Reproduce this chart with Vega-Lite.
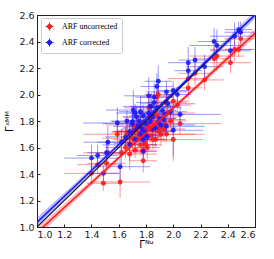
{
"$schema":"https://vega.github.io/schema/vega-lite/v6.json",
"width":218,"height":212,
"autosize":{"type":"none"},
"padding":{"left":37,"top":15,"right":19,"bottom":32},
"background":"white",
"datasets":{
"pts":[
{"s":"ARF uncorrected","x":1.40,"xe":0.20,"y":1.405,"ye":0.09},
{"s":"ARF uncorrected","x":1.445,"xe":0.15,"y":1.47,"ye":0.07},
{"s":"ARF uncorrected","x":1.487,"xe":0.12,"y":1.33,"ye":0.06},
{"s":"ARF uncorrected","x":1.52,"xe":0.18,"y":1.56,"ye":0.10},
{"s":"ARF uncorrected","x":1.61,"xe":0.22,"y":1.34,"ye":0.12},
{"s":"ARF uncorrected","x":1.51,"xe":0.14,"y":1.48,"ye":0.07},
{"s":"ARF uncorrected","x":1.78,"xe":0.10,"y":1.50,"ye":0.09},
{"s":"ARF uncorrected","x":2.00,"xe":0.22,"y":1.66,"ye":0.16},
{"s":"ARF uncorrected","x":1.59,"xe":0.25,"y":1.70,"ye":0.11},
{"s":"ARF uncorrected","x":1.707,"xe":0.20,"y":1.77,"ye":0.14},
{"s":"ARF uncorrected","x":1.70,"xe":0.15,"y":1.72,"ye":0.10},
{"s":"ARF uncorrected","x":1.82,"xe":0.18,"y":1.90,"ye":0.12},
{"s":"ARF uncorrected","x":1.88,"xe":0.12,"y":1.98,"ye":0.09},
{"s":"ARF uncorrected","x":1.89,"xe":0.10,"y":2.00,"ye":0.10},
{"s":"ARF uncorrected","x":1.95,"xe":0.15,"y":1.94,"ye":0.08},
{"s":"ARF uncorrected","x":2.00,"xe":0.12,"y":1.95,"ye":0.07},
{"s":"ARF uncorrected","x":2.03,"xe":0.10,"y":1.92,"ye":0.06},
{"s":"ARF uncorrected","x":2.11,"xe":0.15,"y":2.12,"ye":0.11},
{"s":"ARF uncorrected","x":2.16,"xe":0.12,"y":2.16,"ye":0.09},
{"s":"ARF uncorrected","x":2.11,"xe":0.10,"y":2.05,"ye":0.08},
{"s":"ARF uncorrected","x":2.23,"xe":0.14,"y":2.11,"ye":0.08},
{"s":"ARF uncorrected","x":2.30,"xe":0.12,"y":2.27,"ye":0.09},
{"s":"ARF uncorrected","x":2.32,"xe":0.20,"y":2.29,"ye":0.11},
{"s":"ARF uncorrected","x":2.42,"xe":0.15,"y":2.24,"ye":0.08},
{"s":"ARF uncorrected","x":2.45,"xe":0.18,"y":2.34,"ye":0.09},
{"s":"ARF uncorrected","x":2.495,"xe":0.12,"y":2.42,"ye":0.07},
{"s":"ARF uncorrected","x":2.48,"xe":0.10,"y":2.34,"ye":0.06},
{"s":"ARF uncorrected","x":1.65,"xe":0.15,"y":1.60,"ye":0.08},
{"s":"ARF uncorrected","x":1.68,"xe":0.12,"y":1.63,"ye":0.07},
{"s":"ARF uncorrected","x":1.72,"xe":0.10,"y":1.58,"ye":0.06},
{"s":"ARF uncorrected","x":1.74,"xe":0.18,"y":1.66,"ye":0.09},
{"s":"ARF uncorrected","x":1.75,"xe":0.08,"y":1.70,"ye":0.06},
{"s":"ARF uncorrected","x":1.76,"xe":0.12,"y":1.62,"ye":0.07},
{"s":"ARF uncorrected","x":1.77,"xe":0.15,"y":1.68,"ye":0.10},
{"s":"ARF uncorrected","x":1.78,"xe":0.10,"y":1.74,"ye":0.08},
{"s":"ARF uncorrected","x":1.79,"xe":0.20,"y":1.65,"ye":0.06},
{"s":"ARF uncorrected","x":1.80,"xe":0.12,"y":1.72,"ye":0.05},
{"s":"ARF uncorrected","x":1.81,"xe":0.09,"y":1.60,"ye":0.09},
{"s":"ARF uncorrected","x":1.82,"xe":0.14,"y":1.76,"ye":0.07},
{"s":"ARF uncorrected","x":1.83,"xe":0.10,"y":1.69,"ye":0.06},
{"s":"ARF uncorrected","x":1.84,"xe":0.16,"y":1.80,"ye":0.10},
{"s":"ARF uncorrected","x":1.85,"xe":0.11,"y":1.73,"ye":0.05},
{"s":"ARF uncorrected","x":1.86,"xe":0.13,"y":1.77,"ye":0.08},
{"s":"ARF uncorrected","x":1.87,"xe":0.08,"y":1.66,"ye":0.06},
{"s":"ARF uncorrected","x":1.88,"xe":0.18,"y":1.84,"ye":0.12},
{"s":"ARF uncorrected","x":1.90,"xe":0.12,"y":1.75,"ye":0.07},
{"s":"ARF uncorrected","x":1.91,"xe":0.25,"y":1.70,"ye":0.09},
{"s":"ARF uncorrected","x":1.92,"xe":0.10,"y":1.82,"ye":0.06},
{"s":"ARF uncorrected","x":1.94,"xe":0.14,"y":1.78,"ye":0.08},
{"s":"ARF uncorrected","x":1.96,"xe":0.20,"y":1.86,"ye":0.07},
{"s":"ARF uncorrected","x":1.98,"xe":0.12,"y":1.80,"ye":0.05},
{"s":"ARF uncorrected","x":1.70,"xe":0.22,"y":1.67,"ye":0.10},
{"s":"ARF uncorrected","x":1.73,"xe":0.10,"y":1.75,"ye":0.08},
{"s":"ARF uncorrected","x":1.76,"xe":0.16,"y":1.78,"ye":0.12},
{"s":"ARF uncorrected","x":1.80,"xe":0.11,"y":1.62,"ye":0.06},
{"s":"ARF uncorrected","x":1.83,"xe":0.20,"y":1.83,"ye":0.09},
{"s":"ARF uncorrected","x":1.85,"xe":0.09,"y":1.66,"ye":0.07},
{"s":"ARF uncorrected","x":1.62,"xe":0.18,"y":1.56,"ye":0.10},
{"s":"ARF uncorrected","x":1.66,"xe":0.12,"y":1.71,"ye":0.08},
{"s":"ARF uncorrected","x":1.72,"xe":0.14,"y":1.73,"ye":0.07},
{"s":"ARF uncorrected","x":1.78,"xe":0.09,"y":1.58,"ye":0.05},
{"s":"ARF uncorrected","x":1.89,"xe":0.11,"y":1.72,"ye":0.06},
{"s":"ARF uncorrected","x":1.93,"xe":0.16,"y":1.74,"ye":0.10},
{"s":"ARF uncorrected","x":2.05,"xe":0.30,"y":1.78,"ye":0.08},
{"s":"ARF uncorrected","x":1.95,"xe":0.28,"y":1.70,"ye":0.06},
{"s":"ARF uncorrected","x":1.68,"xe":0.20,"y":1.55,"ye":0.12},
{"s":"ARF uncorrected","x":1.86,"xe":0.14,"y":1.86,"ye":0.11},
{"s":"ARF corrected","x":1.40,"xe":0.20,"y":1.52,"ye":0.10},
{"s":"ARF corrected","x":1.445,"xe":0.15,"y":1.54,"ye":0.08},
{"s":"ARF corrected","x":1.487,"xe":0.12,"y":1.405,"ye":0.06},
{"s":"ARF corrected","x":1.52,"xe":0.18,"y":1.64,"ye":0.12},
{"s":"ARF corrected","x":1.61,"xe":0.22,"y":1.455,"ye":0.14},
{"s":"ARF corrected","x":1.51,"xe":0.14,"y":1.56,"ye":0.07},
{"s":"ARF corrected","x":1.78,"xe":0.10,"y":1.57,"ye":0.09},
{"s":"ARF corrected","x":2.00,"xe":0.22,"y":1.73,"ye":0.20},
{"s":"ARF corrected","x":1.59,"xe":0.25,"y":1.785,"ye":0.12},
{"s":"ARF corrected","x":1.707,"xe":0.20,"y":1.883,"ye":0.15},
{"s":"ARF corrected","x":1.70,"xe":0.15,"y":1.795,"ye":0.10},
{"s":"ARF corrected","x":1.82,"xe":0.18,"y":1.99,"ye":0.14},
{"s":"ARF corrected","x":1.88,"xe":0.12,"y":2.06,"ye":0.10},
{"s":"ARF corrected","x":1.89,"xe":0.10,"y":2.10,"ye":0.12},
{"s":"ARF corrected","x":1.95,"xe":0.15,"y":2.02,"ye":0.08},
{"s":"ARF corrected","x":2.00,"xe":0.12,"y":2.03,"ye":0.07},
{"s":"ARF corrected","x":2.03,"xe":0.10,"y":2.00,"ye":0.06},
{"s":"ARF corrected","x":2.11,"xe":0.15,"y":2.24,"ye":0.12},
{"s":"ARF corrected","x":2.16,"xe":0.12,"y":2.26,"ye":0.10},
{"s":"ARF corrected","x":2.11,"xe":0.10,"y":2.18,"ye":0.08},
{"s":"ARF corrected","x":2.23,"xe":0.14,"y":2.21,"ye":0.09},
{"s":"ARF corrected","x":2.30,"xe":0.12,"y":2.40,"ye":0.10},
{"s":"ARF corrected","x":2.32,"xe":0.20,"y":2.37,"ye":0.12},
{"s":"ARF corrected","x":2.42,"xe":0.15,"y":2.33,"ye":0.08},
{"s":"ARF corrected","x":2.45,"xe":0.18,"y":2.44,"ye":0.10},
{"s":"ARF corrected","x":2.495,"xe":0.12,"y":2.47,"ye":0.08},
{"s":"ARF corrected","x":2.48,"xe":0.10,"y":2.49,"ye":0.06},
{"s":"ARF corrected","x":1.65,"xe":0.15,"y":1.68,"ye":0.08},
{"s":"ARF corrected","x":1.68,"xe":0.12,"y":1.72,"ye":0.07},
{"s":"ARF corrected","x":1.72,"xe":0.10,"y":1.66,"ye":0.06},
{"s":"ARF corrected","x":1.74,"xe":0.18,"y":1.76,"ye":0.09},
{"s":"ARF corrected","x":1.75,"xe":0.08,"y":1.80,"ye":0.06},
{"s":"ARF corrected","x":1.76,"xe":0.12,"y":1.70,"ye":0.07},
{"s":"ARF corrected","x":1.77,"xe":0.15,"y":1.74,"ye":0.10},
{"s":"ARF corrected","x":1.78,"xe":0.10,"y":1.84,"ye":0.08},
{"s":"ARF corrected","x":1.79,"xe":0.20,"y":1.72,"ye":0.06},
{"s":"ARF corrected","x":1.80,"xe":0.12,"y":1.78,"ye":0.05},
{"s":"ARF corrected","x":1.81,"xe":0.09,"y":1.68,"ye":0.09},
{"s":"ARF corrected","x":1.82,"xe":0.14,"y":1.86,"ye":0.07},
{"s":"ARF corrected","x":1.83,"xe":0.10,"y":1.80,"ye":0.06},
{"s":"ARF corrected","x":1.84,"xe":0.16,"y":1.91,"ye":0.10},
{"s":"ARF corrected","x":1.85,"xe":0.11,"y":1.83,"ye":0.05},
{"s":"ARF corrected","x":1.86,"xe":0.13,"y":1.94,"ye":0.08},
{"s":"ARF corrected","x":1.87,"xe":0.08,"y":1.75,"ye":0.06},
{"s":"ARF corrected","x":1.88,"xe":0.18,"y":1.90,"ye":0.12},
{"s":"ARF corrected","x":1.90,"xe":0.12,"y":1.82,"ye":0.07},
{"s":"ARF corrected","x":1.91,"xe":0.25,"y":1.77,"ye":0.09},
{"s":"ARF corrected","x":1.92,"xe":0.10,"y":1.88,"ye":0.06},
{"s":"ARF corrected","x":1.94,"xe":0.14,"y":1.85,"ye":0.08},
{"s":"ARF corrected","x":1.96,"xe":0.20,"y":1.93,"ye":0.07},
{"s":"ARF corrected","x":1.98,"xe":0.12,"y":1.87,"ye":0.05},
{"s":"ARF corrected","x":1.70,"xe":0.22,"y":1.78,"ye":0.10},
{"s":"ARF corrected","x":1.73,"xe":0.10,"y":1.83,"ye":0.08},
{"s":"ARF corrected","x":1.76,"xe":0.16,"y":1.87,"ye":0.12},
{"s":"ARF corrected","x":1.80,"xe":0.11,"y":1.69,"ye":0.06},
{"s":"ARF corrected","x":1.83,"xe":0.20,"y":1.91,"ye":0.09},
{"s":"ARF corrected","x":1.85,"xe":0.09,"y":1.74,"ye":0.07},
{"s":"ARF corrected","x":1.62,"xe":0.18,"y":1.64,"ye":0.10},
{"s":"ARF corrected","x":1.66,"xe":0.12,"y":1.80,"ye":0.08},
{"s":"ARF corrected","x":1.72,"xe":0.14,"y":1.86,"ye":0.07},
{"s":"ARF corrected","x":1.78,"xe":0.09,"y":1.66,"ye":0.05},
{"s":"ARF corrected","x":1.89,"xe":0.11,"y":1.79,"ye":0.06},
{"s":"ARF corrected","x":1.93,"xe":0.16,"y":1.81,"ye":0.10},
{"s":"ARF corrected","x":2.05,"xe":0.30,"y":1.85,"ye":0.08},
{"s":"ARF corrected","x":1.95,"xe":0.28,"y":1.76,"ye":0.06},
{"s":"ARF corrected","x":1.68,"xe":0.20,"y":1.62,"ye":0.12},
{"s":"ARF corrected","x":1.86,"xe":0.14,"y":1.98,"ye":0.11}
],
"fit":[
{"s":"ARF uncorrected","x":1.0,"c":0.958,"lo":0.923,"hi":0.993},
{"s":"ARF uncorrected","x":1.4,"c":1.334,"lo":1.314,"hi":1.354},
{"s":"ARF uncorrected","x":1.8,"c":1.710,"lo":1.700,"hi":1.720},
{"s":"ARF uncorrected","x":2.2,"c":2.086,"lo":2.068,"hi":2.104},
{"s":"ARF uncorrected","x":2.6,"c":2.462,"lo":2.432,"hi":2.492},
{"s":"ARF corrected","x":1.0,"c":1.035,"lo":1.000,"hi":1.070},
{"s":"ARF corrected","x":1.4,"c":1.426,"lo":1.406,"hi":1.446},
{"s":"ARF corrected","x":1.8,"c":1.817,"lo":1.807,"hi":1.827},
{"s":"ARF corrected","x":2.2,"c":2.209,"lo":2.191,"hi":2.227},
{"s":"ARF corrected","x":2.6,"c":2.600,"lo":2.570,"hi":2.630}
],
"diag":[{"x":1.0,"y":1.0},{"x":2.6,"y":2.6}]
},
"config":{
"font":"DejaVu Sans",
"view":{"stroke":"#222","strokeWidth":1},
"axis":{"grid":false,"domainColor":"#222","tickColor":"#222","tickSize":-3,"labelFontSize":9.5,"labelColor":"#222","labelOverlap":false,"labelBound":false,"titleFontSize":10,"titleFontWeight":"normal","titleColor":"#000","labelFont":"DejaVu Sans","titleFont":"DejaVu Sans"},
"axisX":{"labelPadding":5,"titlePadding":1},
"axisY":{"labelPadding":6,"titlePadding":4}
},
"layer":[
{"data":{"name":"pts"},
 "mark":{"type":"errorbar","clip":true,"rule":{"opacity":0.45,"strokeWidth":1}},
 "encoding":{
  "x":{"field":"x","type":"quantitative","title":"Γᴺᵘ","scale":{"domain":[1,2.6],"nice":false,"zero":false},"axis":{"values":[1.0,1.2,1.4,1.6,1.8,2.0,2.2,2.4,2.6],"format":".1f","labelOverlap":false}},
  "xError":{"field":"xe"},
  "y":{"field":"y","type":"quantitative","title":"Γˣᴹᴹ","scale":{"domain":[1,2.6],"nice":false,"zero":false},"axis":{"values":[1.0,1.2,1.4,1.6,1.8,2.0,2.2,2.4,2.6],"format":".1f","labelOverlap":false}},
  "color":{"field":"s","type":"nominal","scale":{"domain":["ARF uncorrected","ARF corrected"],"range":["#ff1a1a","#1a1aff"]},
   "legend":{"title":null,"orient":"none","legendX":4,"legendY":3,"direction":"vertical","strokeColor":"#cccccc","fillColor":"rgba(255,255,255,0.85)","cornerRadius":2,"padding":4,"labelFont":"Liberation Serif","labelFontSize":8,"labelColor":"#000","symbolType":"M-0.55,0A0.55,0.55,0,1,1,0.55,0A0.55,0.55,0,1,1,-0.55,0ZM-1,0L1,0M0,-1L0,1","symbolSize":64,"symbolStrokeWidth":1,"symbolOpacity":1,"rowPadding":3,"labelOffset":8,
    "encode":{"symbols":{"update":{"fill":{"scale":"color","field":"value"},"stroke":{"scale":"color","field":"value"},"opacity":{"value":1},"fillOpacity":{"value":1},"strokeOpacity":{"value":1}}}}}}
 }},
{"data":{"name":"pts"},
 "mark":{"type":"errorbar","clip":true,"rule":{"opacity":0.45,"strokeWidth":1}},
 "encoding":{
  "x":{"field":"x","type":"quantitative","title":"Γᴺᵘ","axis":{"values":[1.0,1.2,1.4,1.6,1.8,2.0,2.2,2.4,2.6],"format":".1f","labelOverlap":false}},
  "y":{"field":"y","type":"quantitative","title":"Γˣᴹᴹ","axis":{"values":[1.0,1.2,1.4,1.6,1.8,2.0,2.2,2.4,2.6],"format":".1f","labelOverlap":false}},
  "yError":{"field":"ye"},
  "color":{"field":"s","type":"nominal"}
 }},
{"data":{"name":"pts"},
 "mark":{"type":"circle","size":24,"opacity":0.9,"clip":true},
 "encoding":{
  "x":{"field":"x","type":"quantitative","title":"Γᴺᵘ","axis":{"values":[1.0,1.2,1.4,1.6,1.8,2.0,2.2,2.4,2.6],"format":".1f","labelOverlap":false}},
  "y":{"field":"y","type":"quantitative","title":"Γˣᴹᴹ","axis":{"values":[1.0,1.2,1.4,1.6,1.8,2.0,2.2,2.4,2.6],"format":".1f","labelOverlap":false}},
  "color":{"field":"s","type":"nominal"}
 }},
{"data":{"name":"fit"},
 "mark":{"type":"area","opacity":0.3,"clip":true},
 "encoding":{
  "x":{"field":"x","type":"quantitative","title":"Γᴺᵘ","axis":{"values":[1.0,1.2,1.4,1.6,1.8,2.0,2.2,2.4,2.6],"format":".1f","labelOverlap":false}},
  "y":{"field":"lo","type":"quantitative","title":"Γˣᴹᴹ","axis":{"values":[1.0,1.2,1.4,1.6,1.8,2.0,2.2,2.4,2.6],"format":".1f","labelOverlap":false}},
  "y2":{"field":"hi"},
  "color":{"field":"s","type":"nominal"}
 }},
{"data":{"name":"diag"},
 "mark":{"type":"line","color":"#111","strokeWidth":1.2,"clip":true},
 "encoding":{
  "x":{"field":"x","type":"quantitative","title":"Γᴺᵘ","axis":{"values":[1.0,1.2,1.4,1.6,1.8,2.0,2.2,2.4,2.6],"format":".1f","labelOverlap":false}},
  "y":{"field":"y","type":"quantitative","title":"Γˣᴹᴹ","axis":{"values":[1.0,1.2,1.4,1.6,1.8,2.0,2.2,2.4,2.6],"format":".1f","labelOverlap":false}}
 }},
{"data":{"name":"fit"},
 "mark":{"type":"line","strokeWidth":1.5,"clip":true},
 "encoding":{
  "x":{"field":"x","type":"quantitative","title":"Γᴺᵘ","axis":{"values":[1.0,1.2,1.4,1.6,1.8,2.0,2.2,2.4,2.6],"format":".1f","labelOverlap":false}},
  "y":{"field":"c","type":"quantitative","title":"Γˣᴹᴹ","axis":{"values":[1.0,1.2,1.4,1.6,1.8,2.0,2.2,2.4,2.6],"format":".1f","labelOverlap":false}},
  "color":{"field":"s","type":"nominal"}
 }}
]
}
